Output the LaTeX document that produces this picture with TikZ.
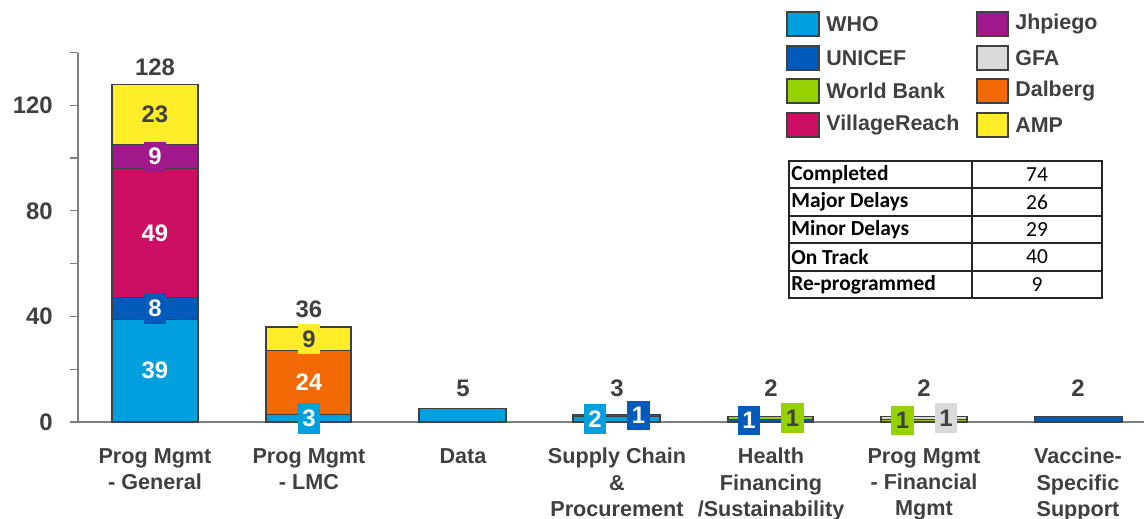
\documentclass[tikz,border=0pt]{standalone}
\usepackage{fontspec}
\usepackage{tikz}
\usetikzlibrary{positioning, calc}
\newfontfamily\chartfont{Liberation Sans}
\newfontfamily\tablefont{Carlito}
\definecolor{whoblue}{HTML}{00A0DF}
\definecolor{unicefblue}{HTML}{005BBB}
\definecolor{wbgreen}{HTML}{95D200}
\definecolor{vrmagenta}{HTML}{CD0F63}
\definecolor{jhpurple}{HTML}{A1178C}
\definecolor{gfagray}{HTML}{D9D9D9}
\definecolor{dalbergorange}{HTML}{F26A05}
\definecolor{ampyellow}{HTML}{FFED2A}
\definecolor{txtgray}{HTML}{404040}
\definecolor{axisgray}{HTML}{808080}

\begin{document}
\begin{tikzpicture}[
    x=0.02cm, y=0.02cm,
    axisline/.style={draw=axisgray, line width=0.7pt},
    seg/.style={draw=txtgray, line width=0.6pt, fill=#1},
    val/.style={fill=#1, text=white, inner xsep=2.6pt, inner ysep=3.8pt, font=\chartfont\bfseries\fontsize{13.6}{16}\selectfont},
    total/.style={text=txtgray, font=\chartfont\bfseries\fontsize{13.6}{16}\selectfont},
    ticklabel/.style={anchor=east, inner sep=0pt, text=txtgray, font=\chartfont\bfseries\fontsize{13.6}{16}\selectfont},
    cat/.style={anchor=north, inner sep=0pt, align=center, text=txtgray, font=\chartfont\bfseries\fontsize{12.3}{15}\selectfont},
    swatch/.style={draw=txtgray, line width=0.6pt, fill=#1},
    legtext/.style={anchor=west, inner sep=0pt, text=txtgray, font=\chartfont\bfseries\fontsize{12.2}{14}\selectfont},
    tbl/.style={draw=black!85, line width=0.9pt},
    tblhead/.style={anchor=west, inner sep=0pt, font=\tablefont\bfseries\fontsize{12.2}{14}\selectfont},
    tblval/.style={inner sep=0pt, font=\tablefont\fontsize{12.2}{14}\selectfont}
]
\useasboundingbox (0,0) rectangle (1144,519);

% Chart area in data units
\begin{scope}[yshift=1.94cm, y=0.0528cm]

% Axes
\draw[axisline] (70,0) -- (1144,0);
\draw[axisline] (78,0) -- (78,140);
\foreach \v in {20,40,...,140}
    \draw[axisline] (70,\v) -- (78,\v);
\foreach \v in {0,40,80,120}
    \node[ticklabel] at (53,\v) {\v};

% Prog Mgmt - General
\draw[seg=whoblue] (112,0) rectangle (198,39);
\draw[seg=unicefblue] (112,39) rectangle (198,47);
\draw[seg=vrmagenta] (112,47) rectangle (198,96);
\draw[seg=jhpurple] (112,96) rectangle (198,105);
\draw[seg=ampyellow] (112,105) rectangle (198,128);

% Prog Mgmt - LMC
\draw[seg=whoblue] (266,0) rectangle (351,3);
\draw[seg=dalbergorange] (266,3) rectangle (351,27);
\draw[seg=ampyellow] (266,27) rectangle (351,36);

% Data
\draw[seg=whoblue] (419,0) rectangle (506,5);

% Supply Chain & Procurement
\draw[seg=whoblue] (573,0) rectangle (660,2);
\draw[seg=unicefblue] (573,2) rectangle (660,3);

% Health Financing
\draw[seg=unicefblue] (728,0) rectangle (813,1);
\draw[seg=wbgreen] (728,1) rectangle (813,2);

% Prog Mgmt - Financial Mgmt
\draw[seg=wbgreen] (881,0) rectangle (967,1);
\draw[seg=gfagray] (881,1) rectangle (967,2);

% Vaccine-Specific Support
\draw[seg=unicefblue] (1035,0) rectangle (1122,2);

% Segment values
\node[val=whoblue] (g39) at (155,19.5) {39};
\node[val=unicefblue] (g8) at (155,43) {8};
\node[val=vrmagenta] (g49) at (155,71.5) {49};
\node[val=jhpurple] (g9) at (155,100.5) {9};
\node[val=ampyellow, text=txtgray] (g23) at (155,116.5) {23};
\node[val=whoblue] (l3) at (309,1.3) {3};
\node[val=dalbergorange] (l24) at (309,15) {24};
\node[val=ampyellow, text=txtgray] (l9) at (309,31.5) {9};
\node[val=whoblue] (s2) at (595,1.1) {2};
\node[val=unicefblue] (s1) at (638.5,2.5) {1};
\node[val=unicefblue] (h1) at (749,0.6) {1};
\node[val=wbgreen, text=txtgray] (h2) at (792.5,1.5) {1};
\node[val=wbgreen, text=txtgray] (f1) at (902.5,0.6) {1};
\node[val=gfagray, text=txtgray] (f2) at (946,1.5) {1};

% Totals
\node[total] (t1) at (155,134.5) {128};
\node[total] (t2) at (309,42.8) {36};
\node[total] (t3) at (463,12.9) {5};
\node[total] (t4) at (617,12.9) {3};
\node[total] (t5) at (771,12.9) {2};
\node[total] (t6) at (924,12.9) {2};
\node[total] (t7) at (1078,12.9) {2};
\end{scope}

% Categories
\node[cat] (c1) at (155,71) {Prog Mgmt\\- General};
\node[cat] (c2) at (309,71) {Prog Mgmt\\- LMC};
\node[cat] (c3) at (463,71) {Data};
\node[cat] (c4) at (617,71) {Supply Chain\\\&\\Procurement};
\node[cat] (c5) at (771,71) {Health\\Financing\\/Sustainability};
\node[cat] (c6) at (924,71) {Prog Mgmt\\- Financial\\Mgmt};
\node[cat] (c7) at (1078,71) {Vaccine-\\Specific\\Support};

% Legend
\draw[swatch=whoblue] (787,483) rectangle (819,507);
\draw[swatch=unicefblue] (787,449) rectangle (819,473);
\draw[swatch=wbgreen] (787,416) rectangle (819,440);
\draw[swatch=vrmagenta] (787,382) rectangle (819,406);
\draw[swatch=jhpurple] (977,483) rectangle (1008,507);
\draw[swatch=gfagray] (977,449) rectangle (1008,473);
\draw[swatch=dalbergorange] (977,416) rectangle (1008,440);
\draw[swatch=ampyellow] (977,382) rectangle (1008,406);
\node[legtext] (who) at (826,495) {WHO};
\node[legtext] (unicef) at (826,461) {UNICEF};
\node[legtext] (wb) at (826,428) {World Bank};
\node[legtext] (vr) at (826,394) {VillageReach};
\node[legtext] (jh) at (1015,495) {Jhpiego};
\node[legtext] (gfa) at (1015,461) {GFA};
\node[legtext] (dal) at (1015,428) {Dalberg};
\node[legtext] (amp) at (1015,394) {AMP};

% Status table
\draw[tbl] (789,221) rectangle (1102,358);
\draw[tbl] (972,221) -- (972,358);
\foreach \y in {248,276,303,331}
    \draw[tbl] (789,\y) -- (1102,\y);
\node[tblhead] (done) at (791,344.5) {Completed};
\node[tblhead] (major) at (791,317) {Major Delays};
\node[tblhead] (minor) at (791,289.5) {Minor Delays};
\node[tblhead] (track) at (791,262) {On Track};
\node[tblhead] (reprog) at (791,234.5) {Re-programmed};
\node[tblval] at (1037,344.5) {74};
\node[tblval] at (1037,317) {26};
\node[tblval] at (1037,289.5) {29};
\node[tblval] at (1037,262) {40};
\node[tblval] at (1037,234.5) {9};

\end{tikzpicture}
\end{document}
